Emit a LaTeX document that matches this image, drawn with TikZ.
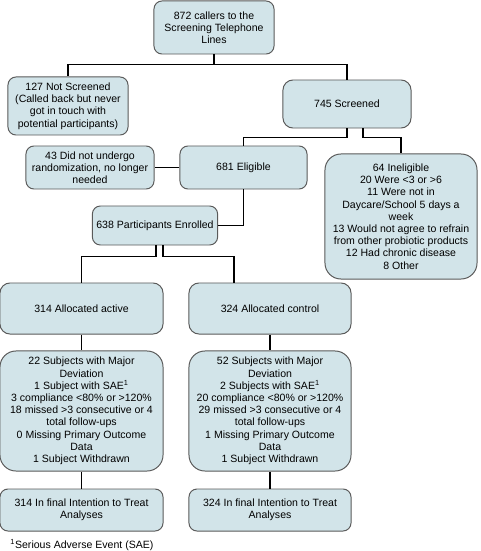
\documentclass[tikz,border=0pt]{standalone}
\usepackage{fontspec}
\setmainfont{Liberation Sans}
\usepackage{tikz}
\usetikzlibrary{positioning, calc}
\definecolor{fcFill}{RGB}{210, 228, 233}
\definecolor{fcEdge}{RGB}{90, 90, 90}
\tikzset{
    base/.style={
        font=\fontsize{7.5}{8.7}\selectfont,
        align=center
    },
    stage/.style={
        base,
        rectangle,
        rounded corners=2mm,
        draw=fcEdge,
        line width=0.7pt,
        fill=fcFill,
        inner sep=1mm
    },
    link/.style={
        line width=1.4pt,
        color=black
    },
    note/.style={
        base,
        inner sep=0pt
    }
}

\begin{document}
\begin{tikzpicture}[x=0.025cm, y=-0.025cm]
  \useasboundingbox (0,0) rectangle (480,551);

  % Screening
  \node[stage, minimum width=3cm, minimum height=1.325cm] (callers) at (214,27.5) {872 callers to the\\Screening Telephone\\Lines};
  \node[stage, minimum width=3cm, minimum height=1.45cm] (notscr) at (68,106) {127 Not Screened\\(Called back but never\\got in touch with\\potential participants)};
  \node[stage, minimum width=3.2cm, minimum height=1.2cm, rounded corners=2.5mm] (screened) at (347,104) {745 Screened};

  % Eligibility
  \node[stage, minimum width=3.2cm, minimum height=1.075cm] (norand) at (90,167.5) {43 Did not undergo\\randomization, no longer\\needed};
  \node[stage, minimum width=3.175cm, minimum height=1.075cm] (eligible) at (243.5,167.5) {681 Eligible};
  \node[stage, minimum width=3.8cm, minimum height=3.125cm, rounded corners=4mm] (inelig) at (401,216.5) {64 Ineligible\\20 Were <3 or >6\\11 Were not in\\Daycare/School 5 days a\\week\\13 Would not agree to refrain\\from other probiotic products\\12 Had chronic disease\\8 Other};
  \node[stage, minimum width=3.05cm, minimum height=0.975cm] (enrolled) at (155,225.5) {638 Participants Enrolled};

  % Allocation
  \node[stage, minimum width=4.075cm, minimum height=1.275cm, rounded corners=2.5mm] (active) at (81.5,308.5) {314 Allocated active};
  \node[stage, minimum width=4.05cm, minimum height=1.275cm, rounded corners=2.5mm] (control) at (270,308.5) {324 Allocated control};

  % Deviations
  \node[stage, minimum width=4.075cm, minimum height=3cm, rounded corners=4mm] (devactive) at (81.5,411) {22 Subjects with Major\\Deviation\\1 Subject with SAE\textsuperscript{1}\\3 compliance <80\% or >120\%\\18 missed >3 consecutive or 4\\total follow-ups\\0 Missing Primary Outcome\\Data\\1 Subject Withdrawn};
  \node[stage, minimum width=4.05cm, minimum height=3cm, rounded corners=4mm] (devcontrol) at (270,411) {52 Subjects with Major\\Deviation\\2 Subjects with SAE\textsuperscript{1}\\20 compliance <80\% or >120\%\\29 missed >3 consecutive or 4\\total follow-ups\\1 Missing Primary Outcome\\Data\\1 Subject Withdrawn};

  % Analyses
  \node[stage, minimum width=4.075cm, minimum height=1.05cm] (itactive) at (81.5,510) {314 In final Intention to Treat\\Analyses};
  \node[stage, minimum width=4.05cm, minimum height=1.05cm] (itcontrol) at (270,510) {324 In final Intention to Treat\\Analyses};

  \node[note, anchor=west] (sae) at (10,545) {\textsuperscript{1}Serious Adverse Event (SAE)};

  % Connectors
  \draw[link] (callers.south) -- ++(0,10) -| (notscr.north);
  \draw[link] ($(callers.south)+(0,10)$) -| (screened.north);
  \draw[link] (screened.south) -- ++(0,9) -| (eligible.north);
  \draw[link] ($(screened.south)+(16,0)$) -- ++(0,9) -| (inelig.north);
  \draw[link] (eligible.west) -- (norand.east);
  \draw[link] (eligible.south) |- (enrolled.east);
  \draw[link] ($(enrolled.south)+(1,0)$) -- ++(0,11) -| (active.north);
  \draw[link] ($(enrolled.south)+(8,0)$) -- ++(0,11) -| ($(control.north)+(-36,0)$);
  \draw[link] (active.south) -- (devactive.north);
  \draw[link] (control.south) -- (devcontrol.north);
  \draw[link] (devactive.south) -- (itactive.north);
  \draw[link] (devcontrol.south) -- (itcontrol.north);
\end{tikzpicture}
\end{document}
